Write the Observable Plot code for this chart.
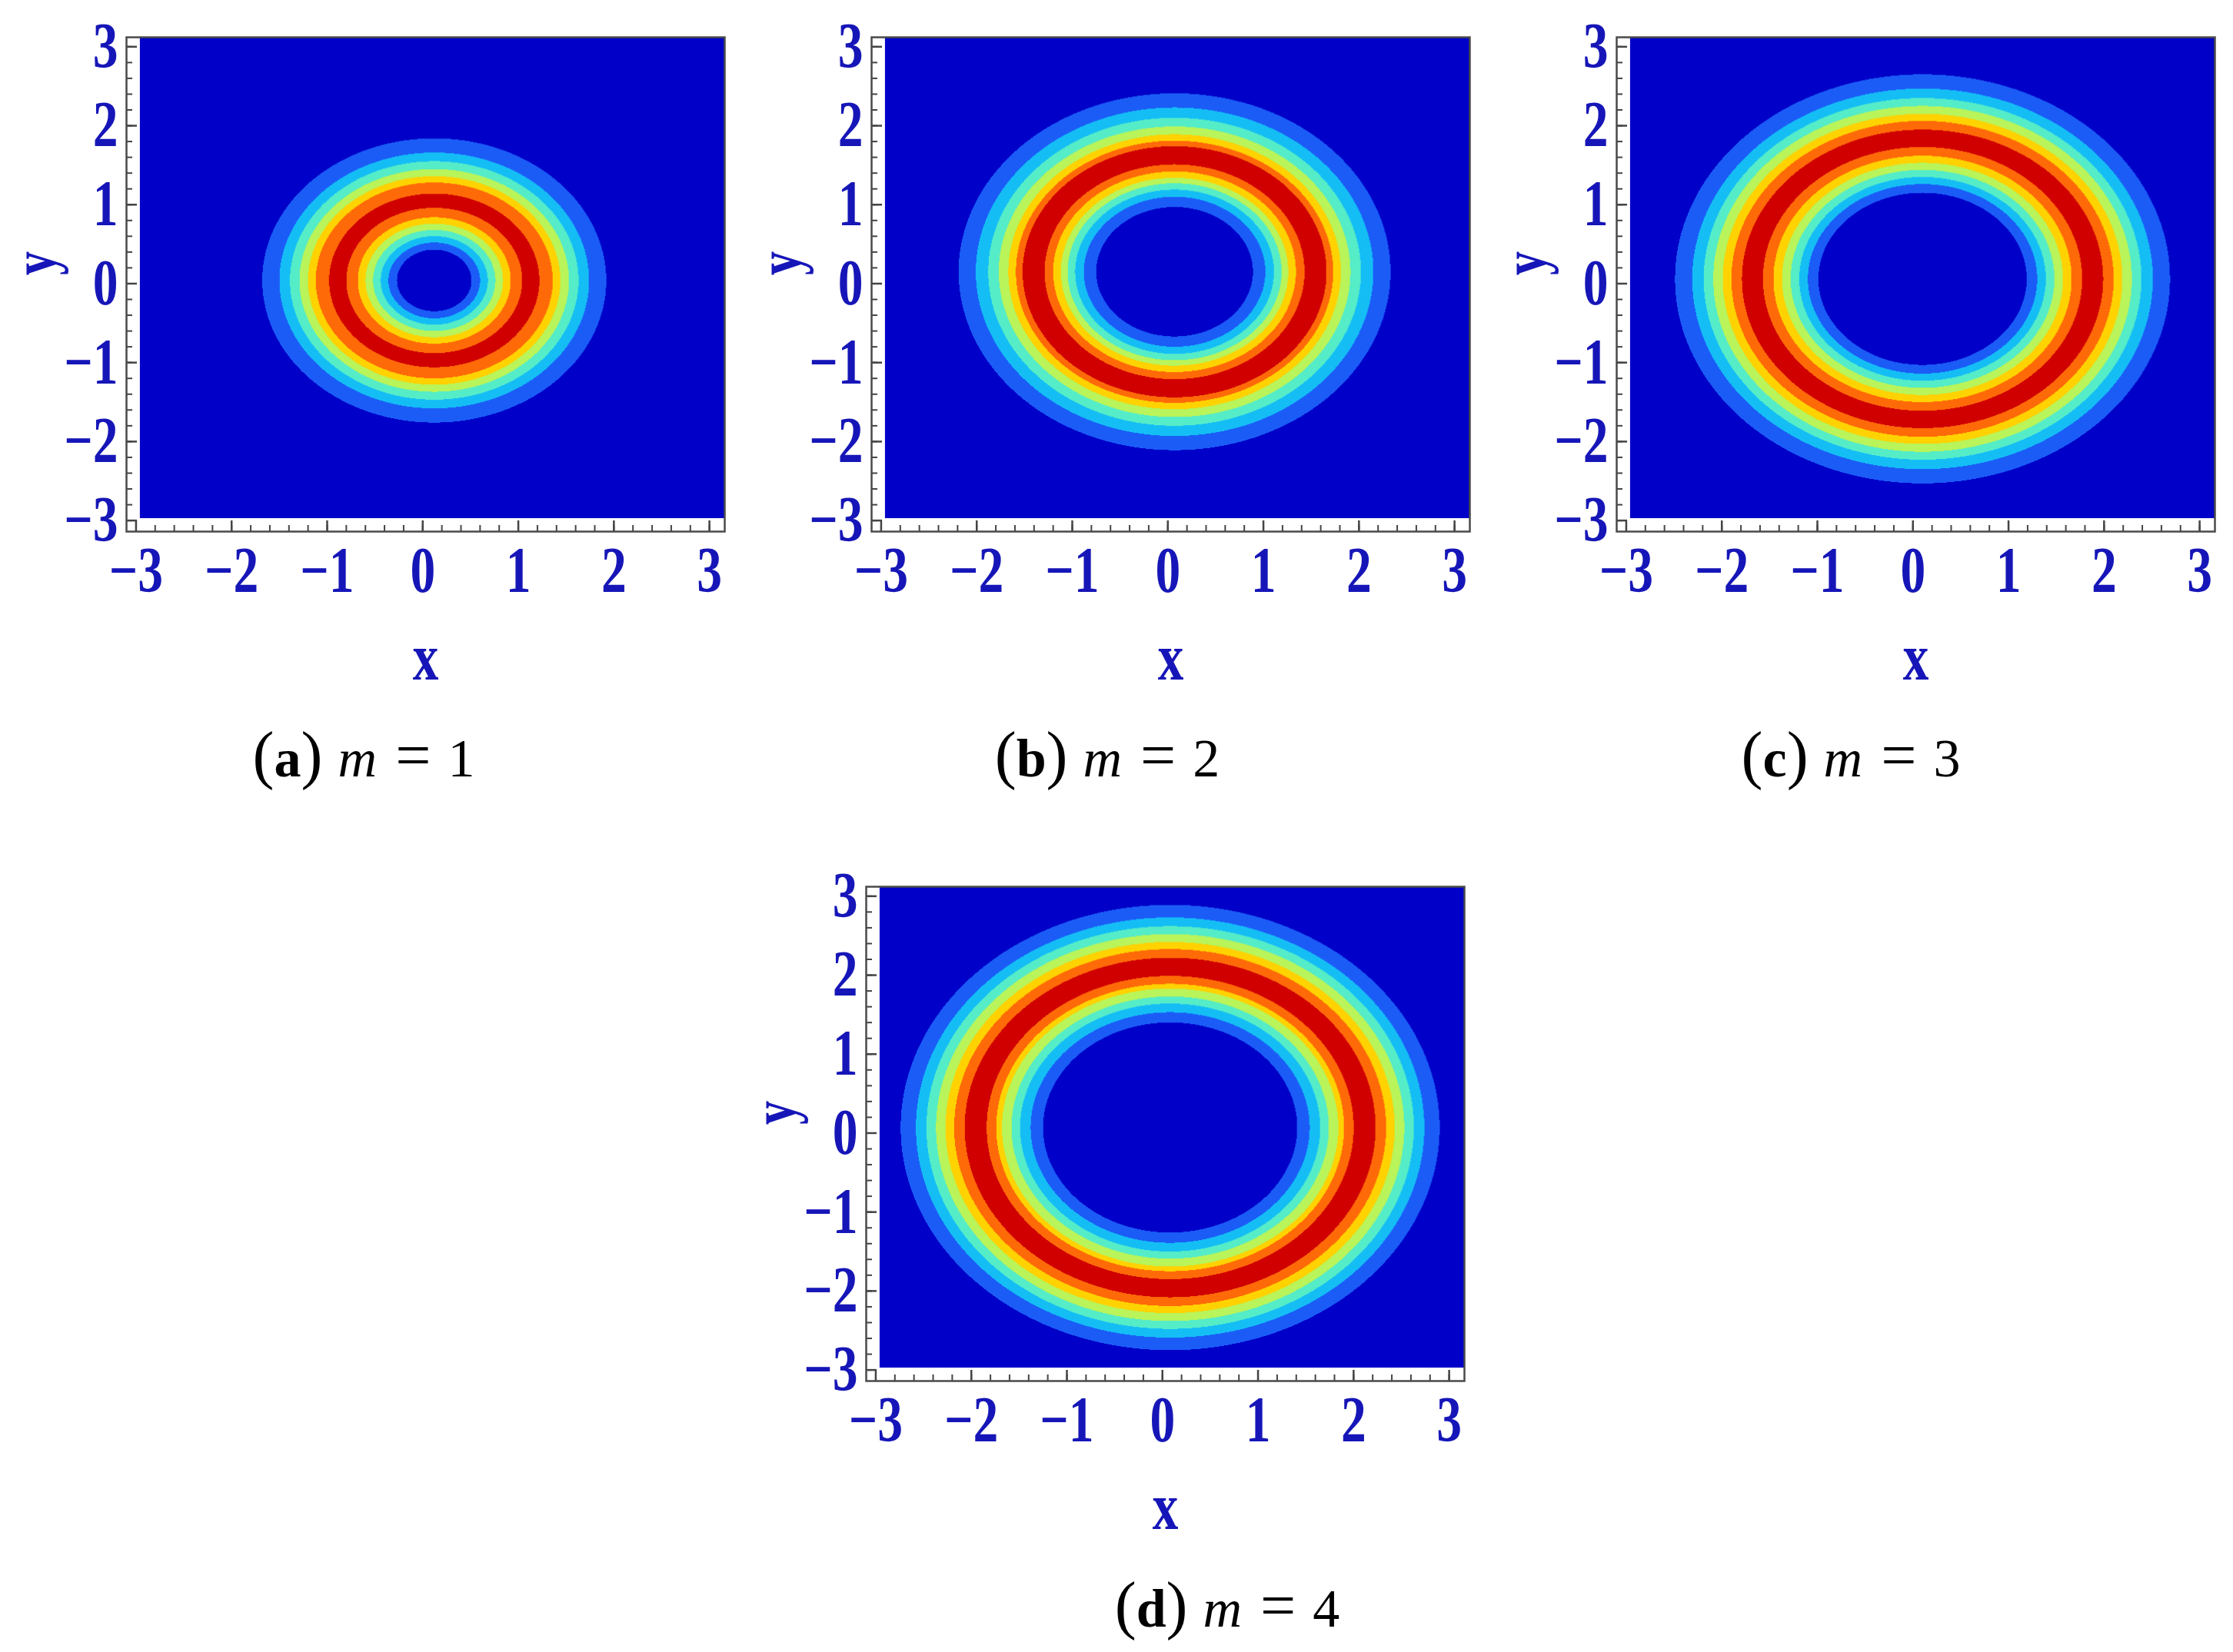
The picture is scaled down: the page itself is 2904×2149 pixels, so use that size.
<!DOCTYPE html>
<html>
<head>
<meta charset="utf-8">
<script src="https://cdn.jsdelivr.net/npm/d3@7"></script>
<script src="https://cdn.jsdelivr.net/npm/@observablehq/plot@0.6"></script>
<style>
html, body { margin: 0; padding: 0; background: #fff; }
#fig { position: relative; width: 2904px; height: 2149px; overflow: hidden; background: #fff; }
.panel { position: absolute; }
#caps { position: absolute; left: 0; top: 0; }
</style>
</head>
<body>
<div id="fig"></div>
<script>
// ---------------- data ----------------
const panelLetters = ["a", "b", "c", "d"];
const mValues = [1, 2, 3, 4];
// contour band colours, background (lowest) to peak
const bandColors = ["#0000c8", "#1b5cf7", "#14bef5", "#55ecc8", "#b8f45a", "#ffd200", "#ff6a08", "#d00000"];
// ring centres (data units)
const centersX = [0.12, 0.07, 0.10, 0.08];
const centersY = [0.04, 0.15, 0.06, 0.07];
// band boundary radii, outermost to innermost (7 rising boundaries, then 7 falling)
const radiiA = [1.80, 1.62, 1.51, 1.41, 1.32, 1.24, 1.10, 0.92, 0.80, 0.72, 0.64, 0.56, 0.48, 0.39];
const radiiB = [2.26, 2.08, 1.95, 1.84, 1.74, 1.66, 1.59, 1.36, 1.27, 1.19, 1.12, 1.04, 0.95, 0.82];
const radiiC = [2.59, 2.41, 2.29, 2.19, 2.09, 2.00, 1.89, 1.67, 1.56, 1.47, 1.38, 1.29, 1.20, 1.09];
const radiiD = [2.82, 2.66, 2.55, 2.45, 2.35, 2.26, 2.15, 1.92, 1.82, 1.76, 1.66, 1.57, 1.46, 1.33];
// axes
const xTickValues = [-3, -2, -1, 0, 1, 2, 3];
const yTickValues = [-3, -2, -1, 0, 1, 2, 3];
const xDomain = [-3.10, 3.16];
const yDomain = [-3.14, 3.12];
const fillX = [-2.96, 3.16];
const fillY = [-2.97, 3.12];

// ---------------- layout ----------------
const radiiSets = [radiiA, radiiB, radiiC, radiiD];
const frameLeft = [164, 1133, 2102, 1126];
const frameTop = [48, 48, 48, 1153];
const capX = [473, 1440, 2407, 1596];
const capBase = [1010, 1010, 1010, 2116];
const innerW = 778, innerH = 643;
const ML = 164, MT = 10, MR = 10, MB = 200;
const blueText = "#1616b8";
const squeeze = 0.78;

const minorTicks = d3.range(-30, 31, 2).map(v => v / 10);
const fmt = d => d < 0 ? "\u2212" + (-d) : String(d);
const fig = document.getElementById("fig");

function makePanel(i) {
  const radii = radiiSets[i];
  const cx = centersX[i], cy = centersY[i];
  const band = (x, y) => {
    const r = Math.hypot(x - cx, y - cy);
    let b = 0;
    for (let k = 0; k < 7; k++) if (r < radii[k]) b++;
    for (let k = 7; k < 14; k++) if (r < radii[k]) b--;
    return b;
  };
  const labelFont = {fontFamily: "Liberation Serif", fontWeight: "bold", fontSize: 84, fill: blueText};
  const svg = Plot.plot({
    width: ML + innerW + MR,
    height: MT + innerH + MB,
    marginLeft: ML, marginTop: MT, marginRight: MR, marginBottom: MB,
    x: {domain: xDomain, axis: null},
    y: {domain: yDomain, axis: null},
    color: {type: "ordinal", domain: d3.range(8), range: bandColors},
    style: {background: "transparent", overflow: "visible"},
    marks: [
      Plot.raster({fill: band, x1: fillX[0], x2: fillX[1], y1: fillY[0], y2: fillY[1], pixelSize: 1}),
      Plot.ruleX(minorTicks, {x: d => d, insetTop: innerH - 8, stroke: "#444", strokeWidth: 2}),
      Plot.ruleX(xTickValues, {x: d => d, insetTop: innerH - 14, stroke: "#444", strokeWidth: 2.5}),
      Plot.ruleY(minorTicks, {y: d => d, insetRight: innerW - 8, stroke: "#444", strokeWidth: 2}),
      Plot.ruleY(yTickValues, {y: d => d, insetRight: innerW - 14, stroke: "#444", strokeWidth: 2.5}),
      Plot.frame({stroke: "#4a4a4a", strokeWidth: 2.5}),
      Plot.text(xTickValues, {x: d => d, text: fmt, frameAnchor: "bottom", dy: 52, lineAnchor: "middle", textAnchor: "middle", ...labelFont}),
      Plot.text(yTickValues, {y: d => d, text: fmt, frameAnchor: "left", dx: -11, lineAnchor: "middle", textAnchor: "end", ...labelFont}),
      Plot.text(["x"], {text: d => d, frameAnchor: "bottom", dy: 165, lineAnchor: "middle", ...labelFont, fontSize: 86}),
      Plot.text(["y"], {text: d => d, frameAnchor: "left", dx: -118, dy: -12, rotate: -90, lineAnchor: "middle", ...labelFont, fontSize: 80})
    ]
  });
  // condensed look of the tick labels
  svg.querySelectorAll('g[aria-label="text"] text').forEach(t => {
    let tr = t.getAttribute("transform");
    if (!tr) {
      const x = t.getAttribute("x") || 0, y = t.getAttribute("y") || 0;
      t.removeAttribute("x"); t.removeAttribute("y");
      tr = `translate(${x},${y})`;
    }
    t.setAttribute("transform", tr + ` scale(${squeeze},1)`);
  });
  const wrap = document.createElement("div");
  wrap.className = "panel";
  wrap.style.left = (frameLeft[i] - ML) + "px";
  wrap.style.top = (frameTop[i] - MT) + "px";
  wrap.appendChild(svg);
  fig.appendChild(wrap);
}

for (let i = 0; i < 4; i++) makePanel(i);

// captions
const caps = d3.select(fig).append("svg").attr("id", "caps")
  .attr("width", 2904).attr("height", 2149);
panelLetters.forEach((letter, i) => {
  const t = caps.append("text")
    .attr("x", capX[i]).attr("y", capBase[i])
    .attr("text-anchor", "middle")
    .attr("font-family", "Liberation Serif")
    .attr("font-size", 70)
    .attr("fill", "#000");
  t.append("tspan").attr("font-size", 84).text("(");
  t.append("tspan").attr("font-weight", "bold").text(letter);
  t.append("tspan").attr("font-size", 84).text(")");
  t.append("tspan").attr("font-style", "italic").attr("dx", 20).text("m");
  t.append("tspan").attr("dx", 24).attr("font-size", 82).text("=");
  t.append("tspan").attr("dx", 22).text(String(mValues[i]));
});
</script>
</body>
</html>
